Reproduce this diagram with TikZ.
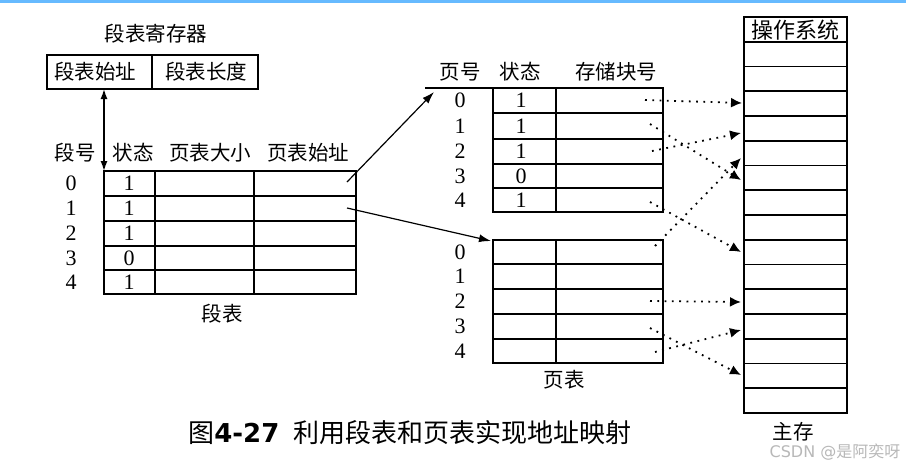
\documentclass[tikz,border=0pt]{standalone}
\usepackage{fontspec}
\setmainfont{Liberation Serif}
\newfontfamily\cjk{Noto Sans CJK SC}
\newfontfamily\dvb{DejaVu Sans}
\usetikzlibrary{arrows.meta}
\begin{document}
\begin{tikzpicture}[x=1pt,y=-1pt,
  tbl/.style={line width=1.6pt},
  lbl/.style={font=\cjk\fontsize{20.5}{20.5}\selectfont, inner sep=0pt},
  num/.style={font=\fontsize{22}{22}\selectfont, inner sep=0pt},
  solidarrow/.style={line width=1.2pt, -{Latex[length=12pt,width=8pt]}},
  dblarrow/.style={line width=1.4pt, {Latex[length=10pt,width=7pt]}-{Latex[length=10pt,width=7pt]}},
  dotarrow/.style={line width=1.8pt, dash pattern=on 1.8pt off 5.5pt, -{Latex[length=11pt,width=10pt]}}
]
\useasboundingbox (0,0) rectangle (906,469);
\fill[white] (0,0) rectangle (906,469);
\fill[blue!45!cyan!60!white] (0,0) rectangle (906,3);

% segment-table register
\node[lbl] (regtitle) at (156,34) {段表寄存器};
\draw[tbl] (47,55) rectangle (258,89);
\draw[tbl] (152,55) -- (152,89);
\node[lbl] (regstart) at (95,72) {段表始址};
\node[lbl] (reglen) at (206,72) {段表长度};
\coordinate (regbot) at (104,89);

% segment table
\node[lbl] (hsno) at (75,153) {段号};
\node[lbl] (hsst) at (133,153) {状态};
\node[lbl] (hsize) at (210,153) {页表大小};
\node[lbl] (hstart) at (308,153) {页表始址};
\draw[tbl] (104,171) rectangle (356,294);
\draw[tbl] (155,171) -- (155,294);
\draw[tbl] (254,171) -- (254,294);
\foreach \y in {196,221,246,270} \draw[tbl] (104,\y) -- (356,\y);
\coordinate (segtl) at (104,171);
\foreach \i/\y/\s in {0/183.5/1,1/208.5/1,2/233.5/1,3/258/0,4/282/1}{
  \node[num] (sn\i) at (71,\y) {\i};
  \node[num] (ss\i) at (129,\y) {\s};
}
\node[lbl] (segname) at (222,314) {段表};
\draw[dblarrow] (regbot) -- (segtl);

% page table 1
\node[lbl] (hpno) at (460,72) {页号};
\node[lbl] (hpst) at (520,72) {状态};
\node[lbl] (hblk) at (616,72) {存储块号};
\draw[tbl] (425,88) -- (493,88);
\draw[tbl] (493,88) rectangle (663,212);
\draw[tbl] (556,88) -- (556,212);
\foreach \y in {113,139,164,188} \draw[tbl] (493,\y) -- (663,\y);
\foreach \i/\y/\s in {0/100.5/1,1/126/1,2/151.5/1,3/176/0,4/200/1}{
  \node[num] (pn\i) at (460,\y) {\i};
  \node[num] (ps\i) at (521,\y) {\s};
}

% page table 2
\draw[tbl] (493,240) rectangle (663,363);
\draw[tbl] (556,240) -- (556,363);
\foreach \y in {264,289,314,339} \draw[tbl] (493,\y) -- (663,\y);
\foreach \i/\y in {0/252,1/276.5,2/301.5,3/326.5,4/351}{
  \node[num] (qn\i) at (460,\y) {\i};
}
\node[lbl] (ptname) at (564,380) {页表};

% main memory
\draw[tbl] (744,17) rectangle (847,413);
\foreach \k in {1,...,15} \draw[tbl] (744,17+24.75*\k) -- (847,17+24.75*\k);
\node[font=\cjk\fontsize{22}{22}\selectfont, inner sep=0pt] (os) at (795.5,30) {操作系统};
\node[lbl] (memname) at (793,432) {主存};

% segment table -> page tables
\coordinate (s0) at (347,182);
\coordinate (s1) at (347,208);
\coordinate (p1) at (434,92);
\coordinate (p2) at (491,241);
\draw[solidarrow] (s0) -- (p1);
\draw[solidarrow] (s1) -- (p2);

% page tables -> memory blocks
\coordinate (a0) at (645,100);  \coordinate (m3) at (742,103);
\coordinate (a1) at (650,124);  \coordinate (m6) at (741,180);
\coordinate (a2) at (652,151);  \coordinate (m4) at (741,133);
\coordinate (a4) at (650,202);  \coordinate (m9) at (741,252);
\coordinate (b0) at (655,246);  \coordinate (m5) at (741,158);
\coordinate (b2) at (650,301);  \coordinate (m11) at (741,302);
\coordinate (b3) at (650,328);  \coordinate (m14) at (741,375);
\coordinate (b4) at (655,352);  \coordinate (m12) at (741,330);
\draw[dotarrow] (a0) -- (m3);
\draw[dotarrow] (a1) -- (m6);
\draw[dotarrow] (a2) -- (m4);
\draw[dotarrow] (a4) -- (m9);
\draw[dotarrow] (b0) -- (m5);
\draw[dotarrow] (b2) -- (m11);
\draw[dotarrow] (b3) -- (m14);
\draw[dotarrow] (b4) -- (m12);

% caption
\node[inner sep=0pt, font=\fontsize{26}{26}\selectfont] (caption) at (410,433)
  {{\cjk 图}{\dvb\bfseries 4-27}\hspace{0.55em}{\cjk 利用段表和页表实现地址映射}};
\node[inner sep=0pt, text=black!28, font=\fontsize{16}{16}\selectfont] (wm) at (835,452)
  {{\dvb CSDN @}{\cjk 是阿奕呀}};
\end{tikzpicture}
\end{document}
